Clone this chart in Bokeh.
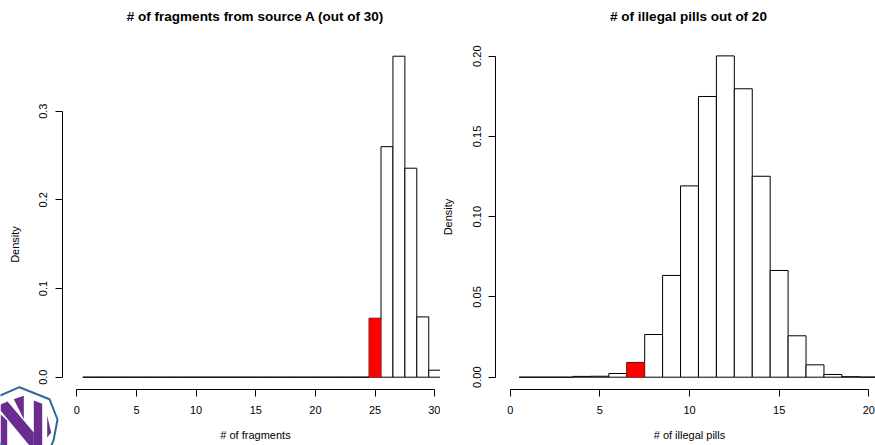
from bokeh.plotting import figure
from bokeh.layouts import row
from bokeh.models import (Range1d, FixedTicker, ColumnDataSource, PrintfTickFormatter,
                          PolyAnnotation, Label)
from bokeh.embed import file_html
from bokeh.resources import INLINE

# ---------------- data ----------------
frag_values = list(range(1, 31))
frag_density = [0.0] * 24 + [0.0665, 0.260, 0.362, 0.2357, 0.068, 0.0079]
frag_highlight = 25
frag_xticks = [0, 5, 10, 15, 20, 25, 30]
frag_yticks = [0.0, 0.1, 0.2, 0.3]

pill_values = list(range(1, 21))
pill_density = [0.0, 0.0, 0.0, 0.0005, 0.0006, 0.0023, 0.0092, 0.0266, 0.0634, 0.1192,
                0.1749, 0.2002, 0.1797, 0.1252, 0.0665, 0.0258, 0.0077, 0.0017, 0.0003, 0.0001]
pill_highlight = 7
pill_xticks = [0, 5, 10, 15, 20]
pill_yticks = [0.00, 0.05, 0.10, 0.15, 0.20]

FONT = "Liberation Sans"
H = 445
AXIS_Y_PX = 389      # pixel row of the x axis line
TITLE_Y_PX = 15.7    # pixel row of the title centre


class Geo:
    """pixel <-> data mapping for a figure whose frame covers the whole canvas"""
    def __init__(self, width, x0_px, x_scale, y0_px, y_scale):
        self.width = width
        self.x0, self.xs = x0_px, x_scale
        self.y0, self.ys = y0_px, y_scale

    def x(self, px):
        return (px - self.x0) / self.xs

    def y(self, py):
        return (self.y0 - py) / self.ys


def make(values, density, highlight, title, xlabel, xticks, yticks, yfmt,
         geo, yaxis_px, title_x_px):
    p = figure(width=geo.width, height=H,
               x_range=Range1d(geo.x(0), geo.x(geo.width)),
               y_range=Range1d(geo.y(H), geo.y(0)),
               output_backend="svg", toolbar_location=None,
               min_border_left=0, min_border_right=0,
               min_border_top=0, min_border_bottom=0)
    p.outline_line_color = None
    p.grid.visible = False
    p.background_fill_color = "white"
    p.border_fill_color = "white"

    for ax in (p.xaxis[0], p.yaxis[0]):
        ax.axis_line_color = "black"
        ax.axis_line_width = 1
        ax.major_tick_line_color = "black"
        ax.major_tick_in = 0
        ax.major_tick_out = 7
        ax.minor_tick_line_color = None
        ax.major_label_text_font = FONT
        ax.major_label_text_font_size = "11px"
        ax.major_label_text_color = "black"
        ax.axis_label_text_font = FONT
        ax.axis_label_text_font_size = "11px"
        ax.axis_label_text_font_style = "normal"
        ax.axis_label_text_color = "black"

    xa = p.xaxis[0]
    xa.ticker = FixedTicker(ticks=xticks)
    xa.bounds = (xticks[0], xticks[-1])
    xa.fixed_location = geo.y(AXIS_Y_PX)
    xa.axis_label = xlabel
    xa.major_label_standoff = 9
    xa.axis_label_standoff = 12

    ya = p.yaxis[0]
    ya.ticker = FixedTicker(ticks=yticks)
    ya.bounds = (yticks[0], yticks[-1])
    ya.fixed_location = geo.x(yaxis_px)
    ya.formatter = PrintfTickFormatter(format=yfmt)
    ya.major_label_orientation = "vertical"
    ya.axis_label = "Density"
    ya.major_label_standoff = 8
    ya.axis_label_standoff = 16

    src = ColumnDataSource(dict(
        left=[v - 0.5 for v in values], right=[v + 0.5 for v in values],
        top=density, bottom=[0.0] * len(values)))
    p.quad(left="left", right="right", top="top", bottom="bottom", source=src,
           fill_color="white", line_color="black", line_width=1)

    i = values.index(highlight)
    hsrc = ColumnDataSource(dict(left=[highlight - 0.5], right=[highlight + 0.5],
                                 top=[density[i]], bottom=[0.0]))
    p.quad(left="left", right="right", top="top", bottom="bottom", source=hsrc,
           fill_color="red", line_color=None)

    p.add_layout(Label(x=title_x_px, y=H - TITLE_Y_PX, x_units="screen", y_units="screen",
                       text=title, text_align="center", text_baseline="middle",
                       text_font=FONT, text_font_size="13.5px", text_font_style="bold",
                       text_color="black"))
    return p


gl = Geo(440, 76.3, 11.93, 376.7, 886.7)
p1 = make(frag_values, frag_density, frag_highlight,
          "# of fragments from source A (out of 30)", "# of fragments",
          frag_xticks, frag_yticks, "%.1f", gl, 62, 255)

gr = Geo(435, 69.7, 17.93, 376.7, 1605.0)
p2 = make(pill_values, pill_density, pill_highlight,
          "# of illegal pills out of 20", "# of illegal pills",
          pill_xticks, pill_yticks, "%.2f", gr, 55.3, 248)

# watermark logo (decoration), canvas pixels -> screen units (y measured upward)
PURPLE = "#6a2d8f"
BLUE = "#2b6a99"
logo_shapes = [
    ([13.3, 23.3, 23.3], [398.7, 395.3, 418.7]),                 # upper-left wedge
    ([0, 6.7, 6.7, 0], [413.7, 420, 445, 445]),                   # left stem
    ([0, 7, 33.3, 33.3, 29, 0], [404, 401, 432, 445, 445, 410]),  # diagonal
    ([33.3, 41.7, 41.7, 33.3], [400, 403.3, 445, 445]),           # right stem
    ([46.7, 50.7, 46.7], [415.3, 432, 437]),                      # right wedge
]
for xs, ys in logo_shapes:
    p1.add_layout(PolyAnnotation(xs=xs, ys=[H - y for y in ys], xs_units="screen", ys_units="screen",
                                 fill_color=PURPLE, fill_alpha=1, line_color=None))
hex_x = [-12, 19, 49, 57, 53, 40, -20]
hex_y = [400, 386.7, 398.7, 419, 440, 470, 430]
p1.add_layout(PolyAnnotation(xs=hex_x, ys=[H - y for y in hex_y], xs_units="screen", ys_units="screen",
                             fill_alpha=0, line_color=BLUE, line_alpha=1, line_width=2))

layout = row(p1, p2)
open("out.html", "w").write(file_html(layout, INLINE))
